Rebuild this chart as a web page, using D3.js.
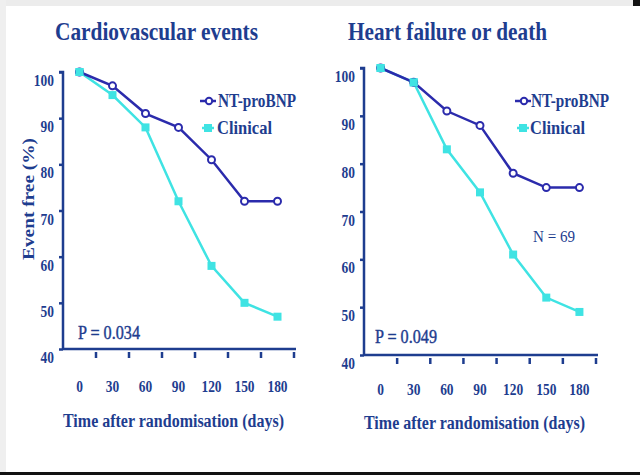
<!DOCTYPE html>
<html><head><meta charset="utf-8">
<script src="https://cdn.jsdelivr.net/npm/d3@7"></script>
<style>
html,body{margin:0;padding:0;background:#fff;}
svg{display:block;}
</style></head>
<body>
<svg id="chart" width="640" height="475"></svg>
<script>
// ---- data ----
const days = ["0", "30", "60", "90", "120", "150", "180"];
const yTicks = [40, 50, 60, 70, 80, 90, 100];
const cvNT = [100, 97, 91, 88, 81, 72, 72];
const cvClinical = [100, 95, 88, 72, 58, 50, 47];
const hfNT = [100, 97, 91, 88, 78, 75, 75];
const hfClinical = [100, 97, 83, 74, 61, 52, 49];
const seriesNames = ["NT-proBNP", "Clinical"];
const titles = ["Cardiovascular events", "Heart failure or death"];
const pValues = ["P = 0.034", "P = 0.049"];
const note = "N = 69";
const xTitle = "Time after randomisation (days)";
const yTitle = "Event free (%)";

const navy = "#1e3d8f", ntCol = "#2b2bac", clCol = "#3fe3e3";
const FONT = "'Liberation Serif','Times New Roman',serif";
const svg = d3.select("#chart");

// frame
svg.append("rect").attr("x",0).attr("y",0).attr("width",640).attr("height",475).attr("fill","#fff");
svg.append("rect").attr("x",0).attr("y",0).attr("width",640).attr("height",6).attr("fill","#ececec");
svg.append("rect").attr("x",0).attr("y",0).attr("width",6).attr("height",475).attr("fill","#efefef");
svg.append("rect").attr("x",0).attr("y",472).attr("width",640).attr("height",3).attr("fill","#111");
svg.append("rect").attr("x",633).attr("y",0).attr("width",7).attr("height",6).attr("fill","#111");

function squeeze(sel, f){
  sel.each(function(){
    const w = this.getComputedTextLength();
    d3.select(this).attr("textLength", w*f).attr("lengthAdjust","spacingAndGlyphs");
  });
  return sel;
}
function fit(sel, w){
  sel.attr("textLength", w).attr("lengthAdjust","spacingAndGlyphs");
  return sel;
}

const panels = [
  {nt: cvNT, cl: cvClinical, title: titles[0], p: pValues[0],
   x0: 63, x1: 294, yTop: 72, yBot: 349, titleX: 55, titleW: 203,
   legX: 200, legTX: 218, legY: [107, 134], pX: 78, pY: 339, xlabY: 392, xtY: 427, showY: true, note: null},
  {nt: hfNT, cl: hfClinical, title: titles[1], p: pValues[1],
   x0: 364, x1: 596, yTop: 68, yBot: 355, titleX: 348, titleW: 199,
   legX: 515, legTX: 531, legY: [107, 134], pX: 375, pY: 343, xlabY: 395, xtY: 429, showY: false, note: note}
];

panels.forEach(P => {
  const g = svg.append("g");
  const x = d3.scaleBand().domain(days).range([P.x0, P.x1]);
  const y = d3.scaleLinear().domain([40, 100]).range([P.yBot, P.yTop]);
  const cx = d => x(d) + x.bandwidth()/2;

  // title
  fit(g.append("text").attr("x", P.titleX).attr("y", 40).attr("font-family", FONT)
    .attr("font-weight","bold").attr("font-size", 26).attr("fill", navy).text(P.title), P.titleW);

  // y axis
  const ya = d3.axisLeft(y).tickValues(yTicks).tickSize(4).tickFormat(d3.format("d"));
  const yg = g.append("g").attr("transform", `translate(${P.x0},0)`).call(ya);
  yg.select(".domain").attr("d", `M-4,${P.yTop}H0V${P.yBot}`);
  yg.selectAll("path,line").attr("stroke", navy).attr("stroke-width", 2.5);
  yg.selectAll("text").attr("font-family", FONT).attr("font-weight","bold").attr("font-size", 16)
    .attr("fill", navy).attr("x", -9).attr("dy", "0.85em");
  squeeze(yg.selectAll("text"), 0.84);

  // x axis
  const xa = d3.axisBottom(x).tickSize(0).tickFormat(d => d);
  const xg = g.append("g").attr("transform", `translate(0,${P.yBot})`).call(xa);
  xg.select(".domain").attr("d", `M${P.x0},0H${P.x1 + 2}`).attr("stroke", navy).attr("stroke-width", 2.5);
  xg.selectAll(".tick line").remove();
  xg.selectAll("text").attr("font-family", FONT).attr("font-weight","bold").attr("font-size", 16)
    .attr("fill", navy).attr("y", P.xlabY - P.yBot).attr("dy", 0);
  squeeze(xg.selectAll("text"), 0.84);
  // tick marks at band right edges
  g.append("g").selectAll("line").data(days).join("line")
    .attr("x1", d => x(d) + x.bandwidth()).attr("x2", d => x(d) + x.bandwidth())
    .attr("y1", P.yBot + 3).attr("y2", P.yBot + 9)
    .attr("stroke", navy).attr("stroke-width", 2.5);

  // x title
  fit(g.append("text").attr("x", P.x0).attr("y", P.xtY).attr("font-family", FONT)
    .attr("font-weight","bold").attr("font-size", 18).attr("fill", navy).text(xTitle), 221);

  // lines
  const line = d3.line().x((d,i) => cx(days[i])).y(d => y(d));
  g.append("path").datum(P.cl).attr("d", line).attr("fill","none").attr("stroke", clCol).attr("stroke-width", 2.5);
  g.append("path").datum(P.nt).attr("d", line).attr("fill","none").attr("stroke", ntCol).attr("stroke-width", 2.5);
  // clinical squares
  g.append("g").selectAll("rect").data(P.cl).join("rect")
    .attr("x", (d,i) => cx(days[i]) - 4).attr("y", d => y(d) - 4)
    .attr("width", 8).attr("height", 8).attr("fill", clCol);
  // NT circles
  g.append("g").selectAll("circle").data(P.nt).join("circle")
    .attr("cx", (d,i) => cx(days[i])).attr("cy", d => y(d)).attr("r", 3.5)
    .attr("fill", "#fff").attr("stroke", ntCol).attr("stroke-width", 2);
  // clinical markers on top where series coincide
  g.append("rect").datum(P.cl[0]).attr("x", cx(days[0]) - 4).attr("y", d => y(d) - 4)
    .attr("width", 8).attr("height", 8).attr("fill", clCol);
  if (!P.showY) {
    g.append("rect").datum(P.cl[1]).attr("x", cx(days[1]) - 4).attr("y", d => y(d) - 4)
      .attr("width", 8).attr("height", 8).attr("fill", clCol);
  }

  // legend
  const ly0 = P.legY[0] - 6, ly1 = P.legY[1] - 6;
  g.append("line").attr("x1", P.legX).attr("x2", P.legX + 16).attr("y1", ly0).attr("y2", ly0)
    .attr("stroke", ntCol).attr("stroke-width", 2.5);
  g.append("circle").attr("cx", P.legX + 9).attr("cy", ly0).attr("r", 3.2)
    .attr("fill", "#fff").attr("stroke", ntCol).attr("stroke-width", 2);
  g.append("line").attr("x1", P.legX + 2).attr("x2", P.legX + 14).attr("y1", ly1).attr("y2", ly1)
    .attr("stroke", clCol).attr("stroke-width", 2.5);
  g.append("rect").attr("x", P.legX + 4).attr("y", ly1 - 4).attr("width", 8).attr("height", 8).attr("fill", clCol);
  fit(g.append("text").attr("x", P.legTX).attr("y", P.legY[0]).attr("font-family", FONT)
    .attr("font-weight","bold").attr("font-size", 18).attr("fill", navy).text(seriesNames[0]), 78);
  fit(g.append("text").attr("x", P.legTX - 1).attr("y", P.legY[1]).attr("font-family", FONT)
    .attr("font-weight","bold").attr("font-size", 18).attr("fill", navy).text(seriesNames[1]), 55);

  // p value
  fit(g.append("text").attr("x", P.pX).attr("y", P.pY).attr("font-family", FONT)
    .attr("font-size", 18).attr("fill", navy).attr("stroke", navy).attr("stroke-width", 0.4)
    .text(P.p), 62);

  if (P.note) {
    fit(g.append("text").attr("x", 533).attr("y", 242).attr("font-family", FONT)
      .attr("font-size", 17).attr("fill", navy).text(P.note), 42);
  }

  if (P.showY) {
    fit(g.append("text").attr("transform", `translate(34,199) rotate(-90)`).attr("text-anchor","middle")
      .attr("font-family", FONT).attr("font-weight","bold").attr("font-size", 17).attr("fill", navy)
      .text(yTitle), 122);
  }
});
</script>
</body></html>
